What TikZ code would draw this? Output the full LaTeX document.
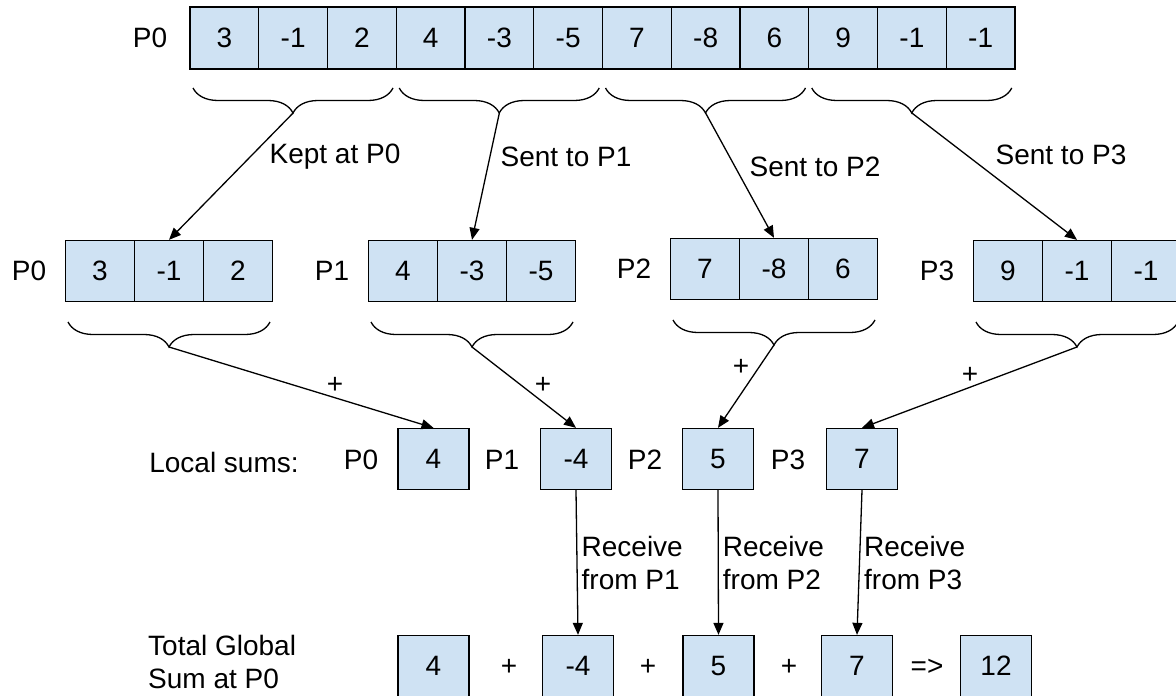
\documentclass[tikz,border=0pt]{standalone}
\usepackage{fontspec}
\setmainfont{Liberation Sans}
\usetikzlibrary{arrows.meta}
\usetikzlibrary{decorations.pathreplacing}
\definecolor{cellblue}{HTML}{CFE2F3}

\begin{document}
\begin{tikzpicture}[x=1pt,y=-1pt,
    every node/.style={font=\fontsize{28}{33}\selectfont},
    cell/.style={draw=black,line width=1.3pt,fill=cellblue,
      minimum width=69pt,minimum height=61pt,inner sep=0pt},
    brc/.style={line width=1.3pt,decorate,
      decoration={brace,mirror,amplitude=25pt}},
    arr/.style={line width=1.3pt,-{Triangle[length=12pt,width=10pt]}}]
  \useasboundingbox (0,0) rectangle (1176,696);

  \node (top) at (150,38) {P0};
  \foreach \v [count=\i] in {3,-1,2,4,-3,-5,7,-8,6,9,-1,-1}
    \node[cell,minimum width=68.75pt,minimum height=62pt] (a\i)
      at ({155.625+68.75*\i},38) {\v};
  \foreach \g in {0,...,3} {
    \draw[brc] ({193+206.25*\g},88) -- ({393+206.25*\g},88);
    \coordinate (t\g) at ({293.1+206.25*\g},113);
  }

  \foreach \p/\m/\y/\vals in {0/169/271/{3,-1,2},1/472/271/{4,-3,-5},
      2/774/269/{7,-8,6},3/1077/271/{9,-1,-1}} {
    \node (lp\p) at (\m-140,\y) {P\p};
    \foreach \v [count=\j] in \vals
      \node[cell] (p\p-\j) at ({\m+69*(\j-2)},\y) {\v};
    \draw[brc] (\m-101,\y+51) -- (\m+101,\y+51);
    \coordinate (q\p) at (\m,\y+76);
    \draw[arr] (t\p) -- (p\p-2.north);
  }
  \node (kept) at (335,157) {Kept at P0};
  \node (sent1) at (566,157) {Sent to P1};
  \node (sent2) at (815,167) {Sent to P2};
  \node (sent3) at (1061,155) {Sent to P3};

  \node (local) at (224,462) {Local sums:};
  \foreach \p/\x/\v/\lx/\px/\py in {0/433.5/4/361/335/385,1/576/-4/502/543/385,
      2/718/5/645/741/367,3/862/7/788/970/375} {
    \node (ls\p) at (\lx,460) {P\p};
    \node[cell,minimum width=71pt] (s\p) at (\x,459) {\v};
    \draw[arr] (q\p) -- (s\p.north);
    \node (plus\p) at (\px,\py) {+};
  }

  \node[anchor=west,align=left,inner sep=0pt] (total) at (148,662)
    {Total Global\\Sum at P0};
  \foreach \p/\x/\v in {0/433.5/4,1/578/-4,2/718.5/5,3/857/7,4/996/12}
    \node[cell,minimum width=71pt] (g\p) at (\x,666) {\v};
  \node (op1) at (509,667) {+};
  \node (op2) at (648,667) {+};
  \node (op3) at (789,667) {+};
  \node (res) at (927,667) {=>};
  \foreach \p in {1,2,3}
    \draw[arr] (s\p.south) -- (g\p.north)
      node[midway,right,align=left,inner sep=4pt] {Receive\\from P\p};
\end{tikzpicture}
\end{document}
